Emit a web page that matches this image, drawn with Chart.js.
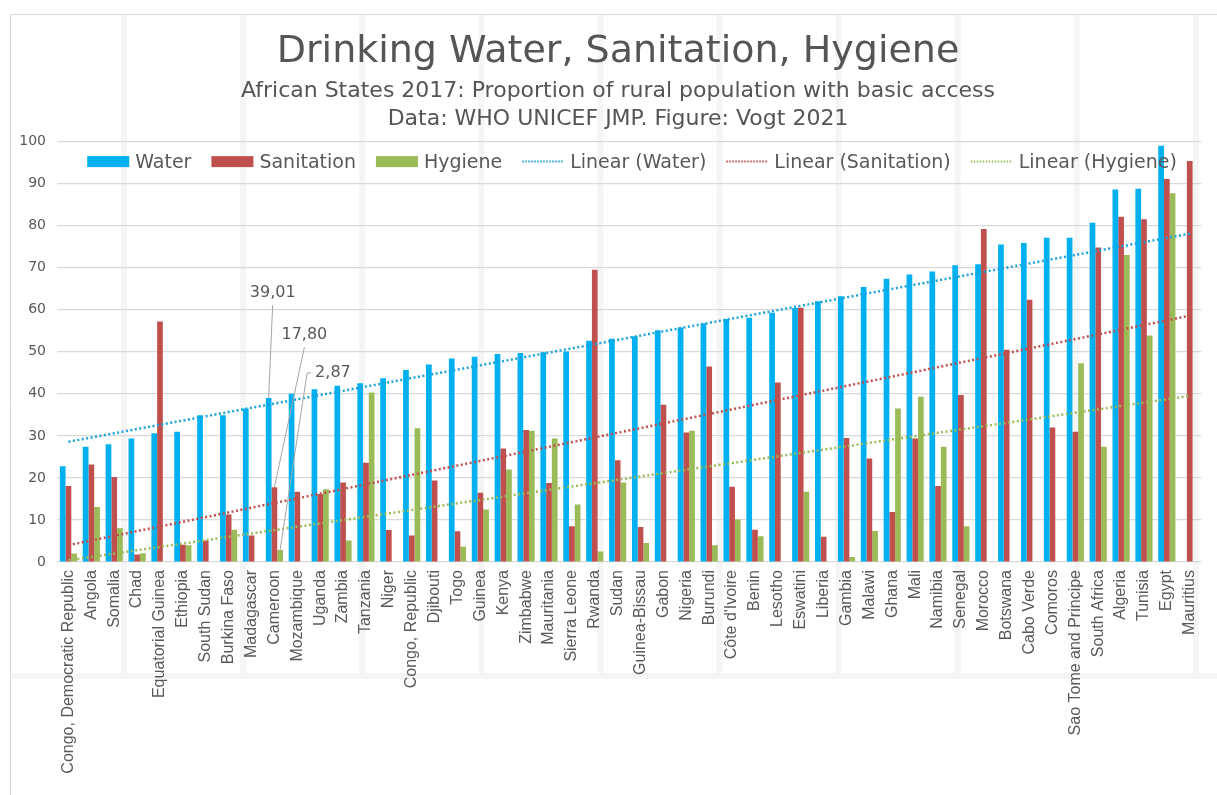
<!DOCTYPE html>
<html>
<head>
<meta charset="utf-8">
<title>Drinking Water, Sanitation, Hygiene</title>
<script src="https://cdn.jsdelivr.net/npm/chart.js@4.4.1/dist/chart.umd.min.js"></script>
<style>
    html, body { margin: 0; padding: 0; background: #fff; }
    #wrap { width: 1217px; height: 795px; }
</style>
</head>
<body>
<div id="wrap"><canvas id="washChart" width="1217" height="795"></canvas></div>
<script>
// Countries, sorted by rural water access (JMP 2017)
const countries = [
    'Congo, Democratic Republic', 'Angola', 'Somalia', 'Chad', 'Equatorial Guinea',
    'Ethiopia', 'South Sudan', 'Burkina Faso', 'Madagascar', 'Cameroon',
    'Mozambique', 'Uganda', 'Zambia', 'Tanzania', 'Niger',
    'Congo, Republic', 'Djibouti', 'Togo', 'Guinea', 'Kenya',
    'Zimbabwe', 'Mauritania', 'Sierra Leone', 'Rwanda', 'Sudan',
    'Guinea-Bissau', 'Gabon', 'Nigeria', 'Burundi', "Côte d'Ivoire",
    'Benin', 'Lesotho', 'Eswatini', 'Liberia', 'Gambia',
    'Malawi', 'Ghana', 'Mali', 'Namibia', 'Senegal',
    'Morocco', 'Botswana', 'Cabo Verde', 'Comoros', 'Sao Tome and Principe',
    'South Africa', 'Algeria', 'Tunisia', 'Egypt', 'Mauritius'
];

const water = [
    22.8, 27.4, 28.0, 29.4, 30.6, 31.0, 34.9, 34.9, 36.5, 39.01,
    40.0, 41.1, 41.9, 42.5, 43.7, 45.7, 47.0, 48.4, 48.8, 49.5,
    49.7, 49.9, 50.1, 52.6, 53.1, 53.7, 55.1, 55.8, 56.8, 57.8,
    58.1, 59.3, 60.4, 62.0, 63.2, 65.4, 67.4, 68.4, 69.1, 70.6,
    70.8, 75.5, 75.9, 77.1, 77.1, 80.7, 88.6, 88.8, 99.0, null
];

const sanitation = [
    18.1, 23.2, 20.2, 1.8, 57.2, 4.1, 5.1, 11.3, 6.3, 17.80,
    16.7, 16.2, 18.9, 23.6, 7.6, 6.3, 19.4, 7.3, 16.5, 27.0,
    31.4, 18.8, 8.5, 69.5, 24.2, 8.3, 37.4, 30.8, 46.5, 17.9,
    7.7, 42.7, 60.5, 6.0, 29.5, 24.6, 11.9, 29.4, 18.1, 39.7,
    79.2, 50.5, 62.4, 32.0, 31.0, 74.8, 82.1, 81.5, 91.1, 95.4
];

const hygiene = [
    2.0, 13.1, 8.0, 2.1, null, 4.0, null, 7.7, null, 2.87,
    null, 17.3, 5.1, 40.3, null, 31.8, null, 3.6, 12.5, 22.0,
    31.2, 29.4, 13.7, 2.5, 18.9, 4.5, null, 31.2, 4.0, 10.1,
    6.1, null, 16.7, null, 1.2, 7.4, 36.5, 39.3, 27.4, 8.5,
    null, null, null, null, 47.3, 27.4, 73.0, 53.9, 87.7, null
];

// Linear trend lines, start / end value
const trendWater = [28.6, 78.1];
const trendSanitation = [4.0, 58.6];
const trendHygiene = [0.4, 39.5];

const yTicks = [0, 10, 20, 30, 40, 50, 60, 70, 80, 90, 100];

// the values called out with leader lines (Cameroon)
const calloutCountry = 'Cameroon';

const COLORS = {
    water: '#00b0f0',
    sanitation: '#c0504d',
    hygiene: '#9bbb59',
    waterTrend: '#1ca3d8',
    text: '#595959',
    grid: '#d9d9d9'
};

const gothic = "'DejaVu Sans', 'Noto Sans', sans-serif";

// stretch a [start, end] pair over the category axis, gaps in between
function trendSeries(pair) {
    const arr = countries.map(() => null);
    arr[0] = pair[0];
    arr[countries.length - 1] = pair[1];
    return arr;
}

// faint spreadsheet cell lines behind the chart + chart frame
const sheetBackground = {
    id: 'sheetBackground',
    beforeDraw(chart) {
        const { ctx, width, height } = chart;
        ctx.save();
        ctx.fillStyle = '#ffffff';
        ctx.fillRect(0, 0, width, height);
        ctx.fillStyle = '#f5f5f5';
        for (let x = 124; x < width; x += 119.1) {
            ctx.fillRect(x - 3, 14, 6, 660);
        }
        ctx.fillRect(10, 673, width - 10, 6);
        ctx.strokeStyle = '#d9d9d9';
        ctx.lineWidth = 1;
        ctx.beginPath();
        ctx.moveTo(10.5, height);
        ctx.lineTo(10.5, 14.5);
        ctx.lineTo(width, 14.5);
        ctx.stroke();
        ctx.restore();
    }
};

// title + subtitle sit a little right of the canvas centre in the original
const titleShift = {
    id: 'titleShift',
    afterLayout(chart) {
        chart.boxes.forEach(b => {
            if (b.position === 'top') {
                b.left += 13;
                b.right += 13;
            }
        });
    }
};

// horizontal legend inside the plot, between the 100 and 90 gridlines
const innerLegend = {
    id: 'innerLegend',
    afterDatasetsDraw(chart) {
        const { ctx, chartArea } = chart;
        const boxW = 42, boxH = 11, gapText = 6, gapItem = 20;
        ctx.save();
        ctx.font = "19px " + gothic;
        ctx.textBaseline = 'middle';
        ctx.textAlign = 'left';
        const items = chart.data.datasets.map(ds => ({
            ds, w: boxW + gapText + ctx.measureText(ds.label).width
        }));
        const total = items.reduce((s, it) => s + it.w, 0) + gapItem * (items.length - 1);
        let x = (chartArea.left + chartArea.right) / 2 + 3 - total / 2;
        const y = chart.scales.y.getPixelForValue(95) - 1;
        items.forEach(it => {
            const ds = it.ds;
            if (ds.type === 'bar') {
                ctx.fillStyle = ds.backgroundColor;
                ctx.fillRect(x, y - boxH / 2, boxW, boxH);
            } else {
                ctx.strokeStyle = ds.borderColor;
                ctx.lineWidth = 2;
                ctx.setLineDash([1.5, 1.5]);
                ctx.beginPath();
                ctx.moveTo(x, y);
                ctx.lineTo(x + boxW, y);
                ctx.stroke();
                ctx.setLineDash([]);
            }
            ctx.fillStyle = COLORS.text;
            ctx.fillText(ds.label, x + boxW + gapText, y + 1);
            x += it.w + gapItem;
        });
        ctx.restore();
    }
};

// data labels with leader lines for the Cameroon bars
const callouts = {
    id: 'callouts',
    afterDatasetsDraw(chart) {
        const idx = countries.indexOf(calloutCountry);
        const { ctx } = chart;
        const specs = [
            { ds: 0, dx: 4, dy: -105, bracket: false },
            { ds: 1, dx: 30, dy: -152, bracket: false },
            { ds: 2, dx: 50, dy: -177, bracket: true }
        ];
        ctx.save();
        ctx.font = "16px " + gothic;
        ctx.fillStyle = COLORS.text;
        ctx.strokeStyle = '#a6a6a6';
        ctx.lineWidth = 1;
        ctx.textBaseline = 'middle';
        specs.forEach(s => {
            const bar = chart.getDatasetMeta(s.ds).data[idx];
            const val = chart.data.datasets[s.ds].data[idx];
            const txt = val.toFixed(2).replace('.', ',');
            const lx = bar.x + s.dx;
            const ly = bar.y + s.dy;
            ctx.beginPath();
            if (s.bracket) {
                ctx.textAlign = 'left';
                ctx.fillText(txt, lx - 15, ly);
                ctx.moveTo(lx - 19, ly);
                ctx.lineTo(lx - 23, ly);
                ctx.lineTo(bar.x, bar.y);
            } else {
                ctx.textAlign = 'center';
                ctx.fillText(txt, lx, ly);
                ctx.moveTo(lx, ly + 12);
                ctx.lineTo(bar.x, bar.y);
            }
            ctx.stroke();
        });
        ctx.restore();
    }
};

const barDataset = (label, data, color) => ({
    type: 'bar',
    label,
    data,
    backgroundColor: color,
    borderWidth: 0,
    categoryPercentage: 0.75,
    barPercentage: 1.0,
    order: 2
});

const trendDataset = (label, data, color) => ({
    type: 'line',
    label,
    data,
    borderColor: color,
    backgroundColor: color,
    borderWidth: 2.5,
    borderDash: [2, 2.5],
    pointRadius: 0,
    spanGaps: true,
    fill: false,
    order: 1
});

new Chart(document.getElementById('washChart'), {
    type: 'bar',
    data: {
        labels: countries,
        datasets: [
            barDataset('Water', water, COLORS.water),
            barDataset('Sanitation', sanitation, COLORS.sanitation),
            barDataset('Hygiene', hygiene, COLORS.hygiene),
            trendDataset('Linear (Water)', trendSeries(trendWater), COLORS.waterTrend),
            trendDataset('Linear (Sanitation)', trendSeries(trendSanitation), COLORS.sanitation),
            trendDataset('Linear (Hygiene)', trendSeries(trendHygiene), COLORS.hygiene)
        ]
    },
    options: {
        responsive: false,
        animation: false,
        devicePixelRatio: 1,
        layout: { padding: { left: 0, right: 7, top: 0, bottom: 0 } },
        plugins: {
            title: {
                display: true,
                text: 'Drinking Water, Sanitation, Hygiene',
                color: '#555555',
                font: { family: gothic, size: 38, weight: 'normal', lineHeight: 1.2 },
                padding: { top: 29, bottom: 0 }
            },
            subtitle: {
                display: true,
                text: [
                    'African States 2017: Proportion of rural population with basic access',
                    'Data: WHO UNICEF JMP. Figure: Vogt 2021'
                ],
                color: '#555555',
                font: { family: gothic, size: 22, weight: 'normal', lineHeight: '28px' },
                padding: { top: 3, bottom: 8 }
            },
            legend: { display: false },
            tooltip: { enabled: false }
        },
        scales: {
            x: {
                grid: { display: false, drawTicks: false },
                border: { display: false },
                ticks: {
                    autoSkip: false,
                    minRotation: 90,
                    maxRotation: 90,
                    padding: 8,
                    color: COLORS.text,
                    font: { family: "'Liberation Sans', Arial, sans-serif", size: 16 }
                },
                afterFit(scale) { scale.height = 233; }
            },
            y: {
                min: 0,
                max: 100,
                afterBuildTicks(scale) { scale.ticks = yTicks.map(v => ({ value: v })); },
                grid: { color: COLORS.grid, drawTicks: false, lineWidth: 1.2 },
                border: { display: false },
                ticks: {
                    padding: 11,
                    color: COLORS.text,
                    font: { family: gothic, size: 14 }
                },
                afterFit(scale) { scale.width = 57; }
            }
        }
    },
    plugins: [sheetBackground, titleShift, innerLegend, callouts]
});
</script>
</body>
</html>
